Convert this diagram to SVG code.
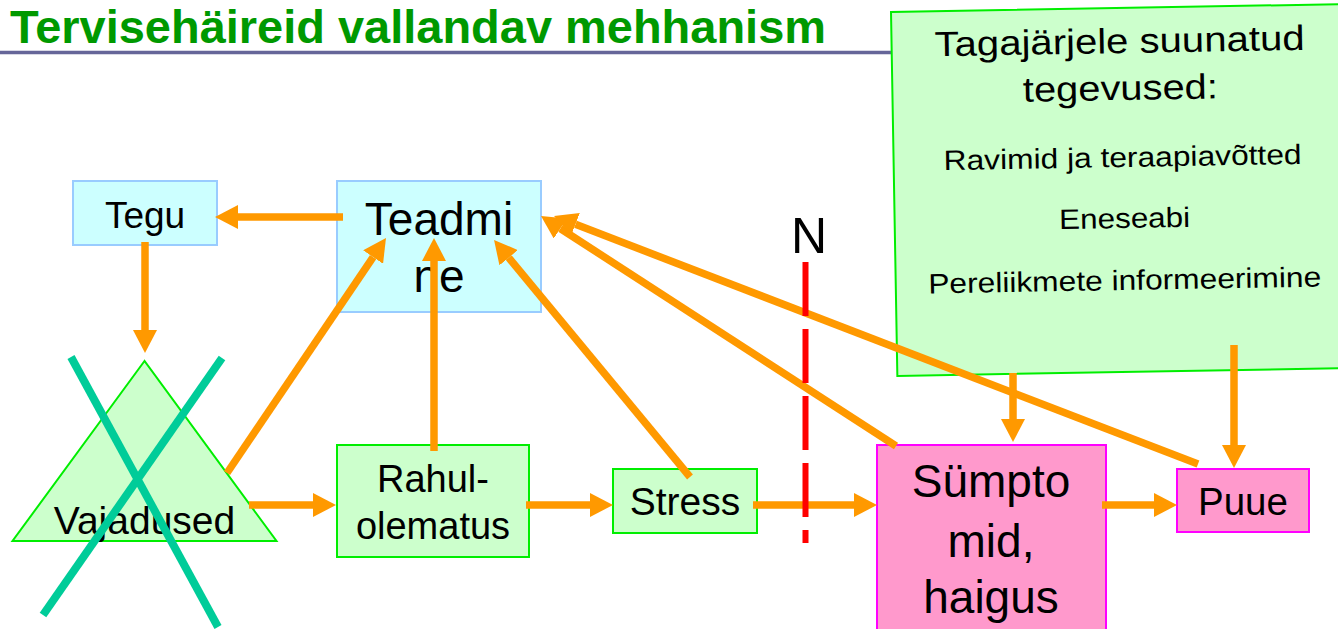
<svg xmlns="http://www.w3.org/2000/svg" width="1338" height="629" viewBox="0 0 1338 629">
<style>
.t{font-family:"Liberation Sans",Arial,sans-serif;fill:#000;text-anchor:middle}
.blue{fill:#ccffff;stroke:#99ccff;stroke-width:2}
.green{fill:#ccffcc;stroke:#00ee00;stroke-width:2}
.pink{fill:#ff99cc;stroke:#ff00ff;stroke-width:2}
.arr{stroke:#ff9900;stroke-width:7.5;fill:none;marker-end:url(#ah)}
.cross{stroke:#00cc99;stroke-width:8}
</style>
<defs>
<marker id="ah" markerUnits="userSpaceOnUse" viewBox="0 0 23 24" refX="0" refY="12" markerWidth="23" markerHeight="24" orient="auto">
<path d="M0,0 L23,12 L0,24 z" fill="#ff9900"/>
</marker>
</defs>
<rect width="1338" height="629" fill="#fff"/>
<g id="title">
<text x="10" y="43" font-family="'Liberation Sans',Arial,sans-serif" font-weight="bold" font-size="46" fill="#009900" textLength="816" lengthAdjust="spacingAndGlyphs">Tervisehäireid vallandav mehhanism</text>
<line x1="0" y1="52.5" x2="895" y2="52.5" stroke="#666699" stroke-width="3.5"/>
</g>
<g id="tegevused" transform="rotate(-1 891 12)">
<rect x="891" y="12" width="470" height="364" class="green"/>
<text class="t" x="1119" y="57" font-size="35" textLength="370" lengthAdjust="spacingAndGlyphs">Tagajärjele suunatud</text>
<text class="t" x="1119" y="104" font-size="35" textLength="195" lengthAdjust="spacingAndGlyphs">tegevused:</text>
<text class="t" x="1120" y="171" font-size="28" textLength="358" lengthAdjust="spacingAndGlyphs">Ravimid ja teraapiavõtted</text>
<text class="t" x="1121" y="232" font-size="28" textLength="131" lengthAdjust="spacingAndGlyphs">Eneseabi</text>
<text class="t" x="1120" y="294" font-size="28" textLength="393" lengthAdjust="spacingAndGlyphs">Pereliikmete informeerimine</text>
</g>
<g id="tegu">
<rect x="73" y="181" width="144" height="64" class="blue"/>
<text class="t" x="145" y="228" font-size="37">Tegu</text>
</g>
<g id="teadmine">
<rect x="337" y="181" width="204" height="131" class="blue"/>
<text class="t" x="439" y="235" font-size="46">Teadmi</text>
<text class="t" x="439" y="292" font-size="46">ne</text>
</g>
<g id="vajadused">
<polygon points="144.5,361 12.5,541 276.5,541" class="green" stroke-width="1.8"/>
<text class="t" x="144.5" y="534" font-size="39">Vajadused</text>
</g>
<g id="rahulolematus">
<rect x="337" y="445" width="192" height="112" class="green"/>
<text class="t" x="433" y="492" font-size="38">Rahul-</text>
<text class="t" x="433" y="539" font-size="38">olematus</text>
</g>
<g id="stress">
<rect x="613" y="469" width="144" height="64" class="green"/>
<text class="t" x="685" y="515" font-size="39">Stress</text>
</g>
<g id="symptomid">
<rect x="877" y="445" width="229" height="200" class="pink"/>
<text class="t" x="991" y="497" font-size="46">Sümpto</text>
<text class="t" x="991" y="557" font-size="46">mid,</text>
<text class="t" x="991" y="613" font-size="46">haigus</text>
</g>
<g id="puue">
<rect x="1177" y="469" width="132" height="63" class="pink"/>
<text class="t" x="1243" y="515" font-size="38.5">Puue</text>
</g>
<g id="connectors">
<line class="arr" x1="343" y1="217" x2="238" y2="217"/>
<line class="arr" x1="145" y1="242" x2="145" y2="330"/>
<line class="arr" x1="227" y1="473" x2="373.1" y2="257.1"/>
<line class="arr" x1="434" y1="451" x2="434" y2="261"/>
<line class="arr" x1="690" y1="477" x2="508.7" y2="257.7"/>
<line class="arr" x1="896" y1="446" x2="560.3" y2="228.5"/>
<line class="arr" x1="1198" y1="464" x2="575.5" y2="224.3"/>
<line class="arr" x1="249" y1="505" x2="313" y2="505"/>
<line class="arr" x1="526" y1="505" x2="590" y2="505"/>
<line class="arr" x1="753" y1="505" x2="854" y2="505"/>
<line class="arr" x1="1102" y1="505" x2="1154" y2="505"/>
<line class="arr" x1="1013" y1="373" x2="1013" y2="419"/>
<line class="arr" x1="1234" y1="345" x2="1234" y2="445"/>
</g>
<g id="cross">
<line class="cross" x1="71" y1="357" x2="218" y2="627"/>
<line class="cross" x1="222" y1="358" x2="43" y2="615"/>
</g>
<g id="n-line">
<line x1="805.5" y1="262" x2="805.5" y2="543" stroke="#ff0000" stroke-width="6" stroke-dasharray="54 13"/>
<text class="t" x="809" y="253" font-size="50">N</text>
</g>
</svg>
